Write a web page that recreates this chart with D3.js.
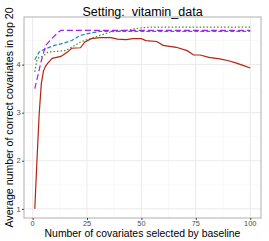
<!DOCTYPE html>
<html>
<head>
<meta charset="utf-8">
<script src="https://cdn.jsdelivr.net/npm/d3@7"></script>
<style>
  body { margin: 0; background: #fff; }
  text { font-family: "Liberation Sans", Arial, sans-serif; }
</style>
</head>
<body>
<script>
// values
let redX    = [1, 2, 3, 4, 5, 6, 7, 9, 13, 16, 18, 22, 24, 27, 31, 36, 39, 43, 46, 50, 52, 57, 60, 63, 66, 71, 74, 77, 81, 86, 90, 93, 97, 100];
let redY    = [1.0, 2.0, 2.95, 3.6, 3.87, 3.97, 4.03, 4.13, 4.17, 4.26, 4.34, 4.35, 4.47, 4.54, 4.56, 4.56, 4.53, 4.52, 4.54, 4.54, 4.5, 4.48, 4.4, 4.38, 4.36, 4.29, 4.2, 4.2, 4.15, 4.12, 4.08, 4.04, 3.98, 3.93];
let greenX  = [1, 2, 3, 5, 7, 12, 15, 18, 22, 27, 31, 36, 43, 49, 54, 100];
let greenY  = [3.85, 4.1, 4.15, 4.18, 4.26, 4.28, 4.29, 4.36, 4.47, 4.55, 4.61, 4.68, 4.71, 4.76, 4.78, 4.78];
let tealX   = [1, 3, 5, 10, 13, 18, 22, 27, 31, 100];
let tealY   = [4.1, 4.26, 4.31, 4.4, 4.43, 4.5, 4.61, 4.66, 4.69, 4.69];
let purpleX = [1, 4, 6, 9, 12, 13, 100];
let purpleY = [3.5, 4.08, 4.4, 4.55, 4.68, 4.71, 4.71];

let xTicks = [0, 25, 50, 75, 100];
let yTicks = [1, 2, 3, 4];

let series = [
    {x: redX,    y: redY,    color: "#b2260f", dash: null},
    {x: greenX,  y: greenY,  color: "#4f8a1f", dash: "1.5,2"},
    {x: tealX,   y: tealY,   color: "#1f8c9c", dash: "4,2"},
    {x: purpleX, y: purpleY, color: "#a020f0", dash: "6,3"}
];

let W = 269, H = 241;
let margin = {top: 17, right: 8, bottom: 23, left: 24},
    width = W - margin.left - margin.right,
    height = H - margin.top - margin.bottom;

let svg = d3.select("body").append("svg")
    .attr("width", W)
    .attr("height", H);

let xScaler = d3.scaleLinear().domain([-3.95, 104.95]).range([0, width]);
let yScaler = d3.scaleLinear().domain([0.81, 4.99]).range([height, 0]);

let g = svg.append("g")
    .attr("transform", `translate(${margin.left}, ${margin.top})`);

// grid, minor then major
let xMinor = [12.5, 37.5, 62.5, 87.5], yMinor = [1.5, 2.5, 3.5, 4.5];
g.selectAll(".xminor").data(xMinor).enter().append("line")
    .attr("x1", d => xScaler(d)).attr("x2", d => xScaler(d))
    .attr("y1", 0).attr("y2", height)
    .attr("stroke", "#f2f2f2").attr("stroke-width", 0.5);
g.selectAll(".yminor").data(yMinor).enter().append("line")
    .attr("y1", d => yScaler(d)).attr("y2", d => yScaler(d))
    .attr("x1", 0).attr("x2", width)
    .attr("stroke", "#f2f2f2").attr("stroke-width", 0.5);
g.selectAll(".xmajor").data(xTicks).enter().append("line")
    .attr("x1", d => xScaler(d)).attr("x2", d => xScaler(d))
    .attr("y1", 0).attr("y2", height)
    .attr("stroke", "#ebebeb").attr("stroke-width", 1);
g.selectAll(".ymajor").data(yTicks).enter().append("line")
    .attr("y1", d => yScaler(d)).attr("y2", d => yScaler(d))
    .attr("x1", 0).attr("x2", width)
    .attr("stroke", "#ebebeb").attr("stroke-width", 1);

// lines
let lineMaker = d3.line()
    .x(d => xScaler(d[0]))
    .y(d => yScaler(d[1]));

series.forEach(s => {
    g.append("path")
        .datum(s.x.map((v, i) => [v, s.y[i]]))
        .attr("fill", "none")
        .attr("stroke", s.color)
        .attr("stroke-width", 1.2)
        .attr("stroke-dasharray", s.dash)
        .attr("d", lineMaker);
});

// panel border
g.append("rect")
    .attr("width", width).attr("height", height)
    .attr("fill", "none")
    .attr("stroke", "#b0b0b0").attr("stroke-width", 1);

// axes (tick marks from d3, labels drawn below)
let xAxis = g.append("g")
    .attr("transform", `translate(0, ${height})`)
    .call(d3.axisBottom(xScaler).tickValues(xTicks).tickSize(2).tickFormat(""));
let yAxis = g.append("g")
    .call(d3.axisLeft(yScaler).tickValues(yTicks).tickSize(2).tickFormat(""));
[xAxis, yAxis].forEach(a => {
    a.select(".domain").remove();
    a.selectAll("line").attr("stroke", "#444");
});

g.selectAll(".xlab").data(xTicks).enter().append("text")
    .attr("x", d => xScaler(d))
    .attr("y", height + 7.6)
    .attr("text-anchor", "middle")
    .attr("fill", "#4d4d4d")
    .style("font-size", "7.4px")
    .text(d => d);

g.selectAll(".ylab").data(yTicks).enter().append("text")
    .attr("x", -3.2)
    .attr("y", d => yScaler(d))
    .attr("dy", "0.35em")
    .attr("text-anchor", "end")
    .attr("fill", "#4d4d4d")
    .style("font-size", "7.6px")
    .text(d => d);

// titles
svg.append("text")
    .attr("x", 142.5)
    .attr("y", 15.5)
    .attr("text-anchor", "middle")
    .style("font-size", "12.5px")
    .style("white-space", "pre")
    .text("Setting:  vitamin_data");

svg.append("text")
    .attr("x", 142.5)
    .attr("y", 236.8)
    .attr("text-anchor", "middle")
    .style("font-size", "10.4px")
    .text("Number of covariates selected by baseline");

svg.append("text")
    .attr("transform", `translate(13.2, ${margin.top + height / 2}) rotate(-90)`)
    .attr("text-anchor", "middle")
    .style("font-size", "10.6px")
    .text("Average number of correct covariates in top 20");
</script>
</body>
</html>
